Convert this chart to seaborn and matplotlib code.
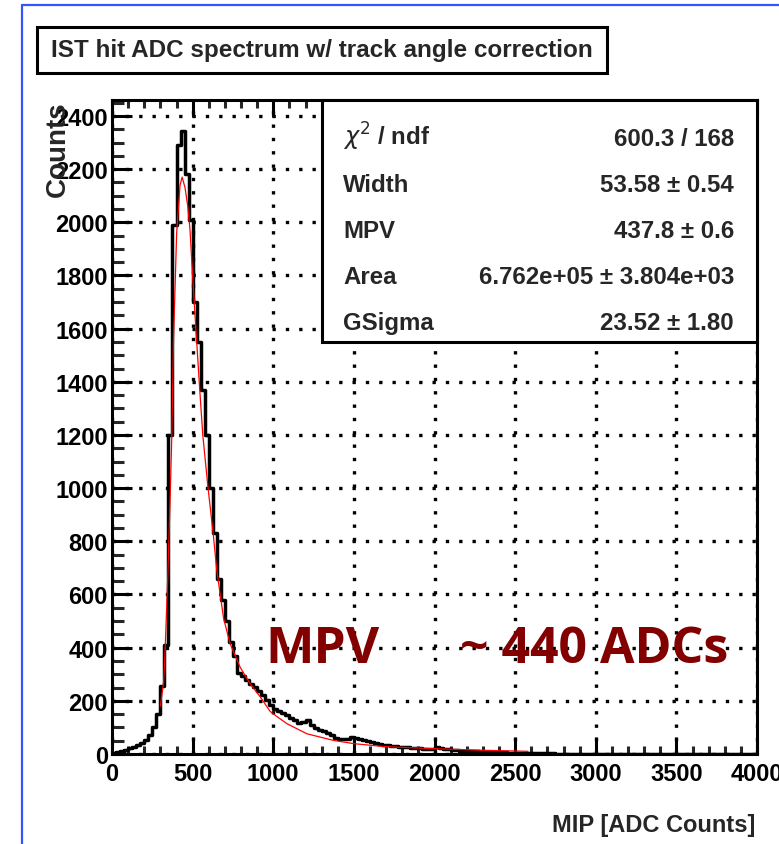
import numpy as np
import pandas as pd
import matplotlib
matplotlib.use("Agg")
import matplotlib.pyplot as plt
import seaborn as sns
from matplotlib.patches import Rectangle
from matplotlib.lines import Line2D
from matplotlib.ticker import MultipleLocator

# ---------------- data ----------------
bin_width = 25  # ADC counts per bin, first bin starts at 0
hist_counts = [
    3, 6, 12, 16, 22, 27, 33, 40, 52, 70,            # 0 - 250
    100, 150, 255, 410, 1200, 1990, 2290, 2345, 2180, 2010,   # 250 - 500
    1700, 1550, 1370, 1200, 1000, 830, 660, 580, 500, 420,    # 500 - 750
    370, 305, 295, 280, 265, 252, 238, 222, 205, 185,         # 750 - 1000
    168, 160, 155, 145, 135, 128, 118, 122, 128, 110,         # 1000 - 1250
    98, 92, 85, 80, 72, 62, 56, 55, 58, 64,                   # 1250 - 1500
    62, 55, 52, 50, 44, 40, 36, 33, 32, 30,                   # 1500 - 1750
    29, 28, 27, 25, 24, 22, 21, 20, 19, 20,                   # 1750 - 2000
    25, 23, 20, 18, 16, 14, 13, 12, 11, 10,                   # 2000 - 2250
    10, 9, 8, 8, 7, 7, 6, 6, 5, 5,                            # 2250 - 2500
    4, 4, 4, 3, 3, 3, 2, 2, 2, 2,                             # 2500 - 2750
    1, 1, 1, 1, 1, 0, 1, 1, 0, 1,                             # 2750 - 3000
    0, 0, 1, 0, 1, 0, 0, 1, 0, 0,                             # 3000 - 3250
    0, 1, 0, 0, 0, 0, 1, 0, 0, 0,                             # 3250 - 3500
    0, 0, 1, 0, 0, 0, 0, 0, 0, 0,                             # 3500 - 3750
    0, 0, 0, 0, 0, 0, 0, 0, 0, 0,                             # 3750 - 4000
]

# Landau (x) Gauss fit curve
fit_adc = [300, 320, 330, 345, 360, 371, 381, 401, 422, 435, 453, 470, 484,
           495, 516, 542, 563, 594, 629, 650, 692, 733, 795, 857, 919, 981,
           1002, 1085, 1209, 1375, 1499, 1685, 1996, 2300, 2580]
fit_counts = [180, 270, 400, 650, 950, 1200, 1550, 1960, 2140, 2170, 2130,
              2060, 1970, 1850, 1640, 1390, 1200, 1010, 820, 690, 510, 414,
              326, 264, 215, 160, 150, 114, 76, 51, 39, 28, 20, 14, 10]

x_ticks = [0, 500, 1000, 1500, 2000, 2500, 3000, 3500, 4000]
y_ticks = [0, 200, 400, 600, 800, 1000, 1200, 1400, 1600, 1800, 2000, 2200, 2400]

stats_labels = [r"$\chi^{2}$ / ndf", "Width", "MPV", "Area", "GSigma"]
stats_values = ["600.3 / 168", "53.58 \u00b1 0.54", "437.8 \u00b1 0.6",
                "6.762e+05 \u00b1 3.804e+03", "23.52 \u00b1 1.80"]

title_text = "IST hit ADC spectrum w/ track angle correction"
x_label = "MIP [ADC Counts]"
y_label = "Counts"
note_left = "MPV"
note_right = "~ 440 ADCs"

# ---------------- figure ----------------
W, H = 779, 845
sns.set_theme(style="white")
plt.rcParams["font.family"] = ["Liberation Sans", "DejaVu Sans"]
plt.rcParams["mathtext.fontset"] = "dejavusans"

fig = plt.figure(figsize=(W / 100, H / 100), dpi=100)
fig.patch.set_facecolor("white")

def fx(x):
    return x / W

def fy(y):
    return 1 - y / H

ax_l, ax_r, ax_t, ax_b = 112, 757, 101, 755
ax = fig.add_axes([fx(ax_l), fy(ax_b), (ax_r - ax_l) / W, (ax_b - ax_t) / H])
ax.set_facecolor("white")

n_bins = len(hist_counts)
df = pd.DataFrame({"adc": np.arange(n_bins) * bin_width + bin_width / 2,
                   "counts": hist_counts})
sns.histplot(data=df, x="adc", weights="counts", binwidth=bin_width,
             binrange=(0, n_bins * bin_width), element="step",
             fill=False, color="black", linewidth=2.5, ax=ax, zorder=3)

fit_df = pd.DataFrame({"adc": fit_adc, "counts": fit_counts})
sns.lineplot(data=fit_df, x="adc", y="counts", color="red", linewidth=0.9,
             ax=ax, zorder=4, sort=False)

ax.set_xlim(0, 4000)
ax.set_ylim(0, 2460)
ax.set_xticks(x_ticks)
ax.set_yticks(y_ticks)
ax.set_xticklabels([str(v) for v in x_ticks])
ax.set_yticklabels([str(v) for v in y_ticks])
ax.xaxis.set_minor_locator(MultipleLocator(100))
ax.yaxis.set_minor_locator(MultipleLocator(50))

ax.grid(True, which="major", color="black", linestyle=(0, (1, 3)), linewidth=2.4)
ax.set_axisbelow(True)

for s in ax.spines.values():
    s.set_linewidth(2.2)
    s.set_color("black")
    s.set_zorder(5)

ax.tick_params(axis="x", which="major", direction="in", length=12, width=2.2,
               top=True, bottom=True, labelsize=17, pad=6, colors="black")
ax.tick_params(axis="x", which="minor", direction="in", length=6, width=2.2,
               top=True, bottom=True)
ax.tick_params(axis="y", which="major", direction="in", length=14.5, width=2.2,
               left=True, right=False, labelsize=17, pad=3, colors="black")
ax.tick_params(axis="y", which="minor", direction="in", length=8.5, width=2.2,
               left=True, right=False)
for lab in ax.get_xticklabels() + ax.get_yticklabels():
    lab.set_fontweight("bold")

ax.set_xlabel("")
ax.set_ylabel(y_label, loc="top", fontsize=20, fontweight="bold")
ax.yaxis.set_label_coords((71 - ax_l) / (ax_r - ax_l), 1.0)

fig.text(fx(755), fy(832), x_label, ha="right", va="baseline", fontsize=17,
         fontweight="bold")

# title box
fig.add_artist(Rectangle((fx(37), fy(74)), (607 - 37) / W, (74 - 28) / H,
                         transform=fig.transFigure, facecolor="white",
                         edgecolor="black", linewidth=2.2, zorder=10))
fig.text(fx(322), fy(51), title_text, ha="center", va="center", fontsize=17.5,
         fontweight="bold", zorder=11)

# stats box
fig.add_artist(Rectangle((fx(322), fy(343)), (757 - 322) / W, (343 - 101) / H,
                         transform=fig.transFigure, facecolor="white",
                         edgecolor="black", linewidth=2.2, zorder=10))
for i, (lab, val) in enumerate(zip(stats_labels, stats_values)):
    yb = 146 + 46 * i
    fig.text(fx(343), fy(yb), lab, ha="left", va="baseline", fontsize=17.3,
             fontweight="bold", zorder=11)
    fig.text(fx(734), fy(yb), val, ha="right", va="baseline", fontsize=17.3,
             fontweight="bold", zorder=11)

# annotation
fig.text(fx(265), fy(663), note_left, ha="left", va="baseline", fontsize=37,
         fontweight="bold", color="#820000", family=["Open Sans", "DejaVu Sans"], zorder=11)
fig.text(fx(460), fy(663), note_right, ha="left", va="baseline", fontsize=36,
         fontweight="bold", color="#820000", family=["Open Sans", "DejaVu Sans"], zorder=11)

# slide frame lines
fig.add_artist(Line2D([fx(22), fx(22)], [0, fy(6)], color="#3355ff", linewidth=1.6,
                      transform=fig.transFigure))
fig.add_artist(Line2D([fx(22), 1], [fy(6), fy(6)], color="#3355ff", linewidth=1.6,
                      transform=fig.transFigure))

fig.savefig("out.png", dpi=100, facecolor="white")
